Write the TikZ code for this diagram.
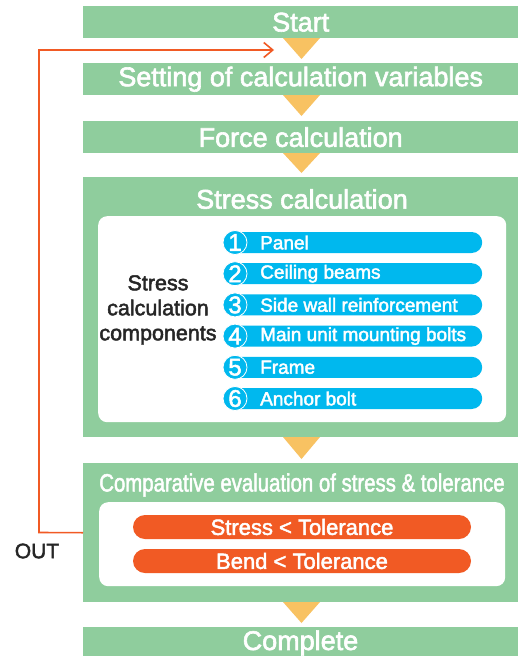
\documentclass[tikz,border=0pt]{standalone}
\usepackage{fontspec}
\setmainfont{Liberation Sans}
\newfontfamily\mf[FakeBold=2.2]{Liberation Sans}
\usetikzlibrary{arrows.meta}
\definecolor{grn}{HTML}{8FCD9D}
\definecolor{tri}{HTML}{F8C262}
\definecolor{blu}{HTML}{00B8EE}
\definecolor{org}{HTML}{F15A24}
\tikzset{
  greenbox/.style={fill=grn, draw=none, anchor=north west, minimum width=435pt, inner sep=0pt, text=white, font=\mf\fontsize{27}{30}\selectfont},
  whitebox/.style={fill=white, draw=none, rounded corners=9pt, anchor=north west, inner sep=0pt},
  bluebar/.style={fill=blu, draw=none, rounded corners=10.5pt, anchor=west, minimum width=258pt, minimum height=21pt, inner sep=0pt},
  bartext/.style={anchor=west, inner sep=0pt, text=white, font=\mf\fontsize{19}{22}\selectfont},
  numcirc/.style={circle, fill=blu, draw=white, line width=0.8pt, minimum size=24pt, inner sep=0pt, text=white, font=\mf\fontsize{24}{26}\selectfont},
  orgbar/.style={fill=org, draw=none, rounded corners=12pt, minimum width=338pt, minimum height=24pt, inner sep=0pt, text=white, font=\mf\fontsize{22}{24}\selectfont},
  downtri/.style={fill=tri, draw=none},
  loopline/.style={draw=org, line width=1.6pt, -{Straight Barb[length=9pt,width=15pt,line width=1.6pt]}}
}
\begin{document}
\begin{tikzpicture}[x=1pt,y=-1pt]
\useasboundingbox (0,0) rectangle (518,656);
\fill[white] (0,0) rectangle (518,656);
% green boxes
\node[greenbox, minimum height=32pt] (start) at (83,6) {Start};
\node[greenbox, minimum height=32pt] (setting) at (83,63) {Setting of calculation variables};
\node[greenbox, minimum height=32pt] (force) at (83,121) {Force calculation};
\node[greenbox, minimum height=260pt] (stress) at (83,177) {};
\node[greenbox, minimum height=139pt] (comp) at (83,463) {};
\node[greenbox, minimum height=33pt] (complete) at (83,627) {};
\node[text=white, font=\mf\fontsize{27}{30}\selectfont] (completet) at (300.5,643) {Complete};
\node[text=white, font=\mf\fontsize{27}{30}\selectfont] (stresst) at (302,199) {Stress calculation};
\node[text=white, font=\mf\fontsize{25}{28}\selectfont] (compt) at (302,485) {\scalebox{0.815}[1]{Comparative evaluation of stress \& tolerance}};
% triangles
\foreach \ya/\yb in {38/59, 95/116, 153/173, 437/459, 602/623}{
  \fill[downtri] (283,\ya) -- (320,\ya) -- (301.5,\yb) -- cycle;
}
% stress inner
\node[whitebox, minimum width=408pt, minimum height=206pt] (sin) at (98,216) {};
\node[font=\mf\fontsize{21.5}{25}\selectfont, align=center, text=black!85] (comps) at (158,310) {Stress\\calculation\\components};
\foreach \i/\t [count=\k from 0] in {1/Panel, 2/Ceiling beams, 3/Side wall reinforcement, 4/Main unit mounting bolts, 5/Frame, 6/Anchor bolt}{
  \node[bluebar] (bar\i) at (224,242.5+31.2*\k) {};
  \node[numcirc] (num\i) at (235,242.5+31.2*\k) {\i};
  \node[bartext] (lab\i) at (260,242.5+31.2*\k) {\t};
}
% comparative inner
\node[whitebox, minimum width=406pt, minimum height=84pt] (cin) at (99,502) {};
\node[orgbar] (c1) at (302,527) {Stress < Tolerance};
\node[orgbar] (c2) at (302,561) {Bend < Tolerance};
% loop
\coordinate (ret) at (274,50);
\draw[loopline] (comp.west) -- (39,532.5) |- (ret);
\node[font=\mf\fontsize{21}{24}\selectfont, text=black!85] (out) at (37,551) {OUT};
\end{tikzpicture}
\end{document}
